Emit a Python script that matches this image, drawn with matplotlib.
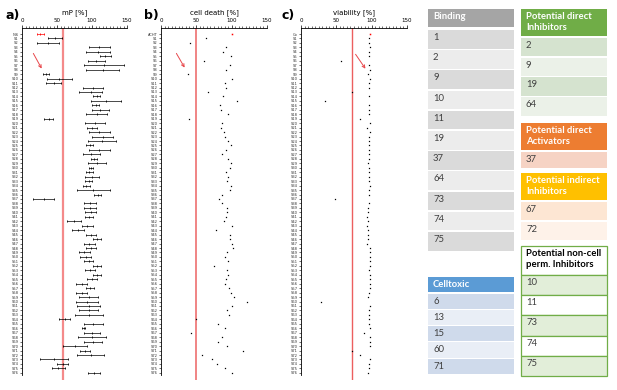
import matplotlib.pyplot as plt
from matplotlib.patches import Rectangle

# ---- data ----
labels_a = ['IN6'] + ['S%d' % i for i in range(1, 77)]
labels_b = ['ACHT'] + ['S%d' % i for i in range(1, 77)]
labels_c = ['Co'] + ['S%d' % i for i in range(1, 77)]

mp_mean = [26, 47, 37, 110, 108, 119, 106, 117, 115, 34, 53, 45, 101, 98, 107, 120, 105, 112, 107, 38,
           104, 100, 110, 115, 114, 97, 110, 99, 103, 107, 98, 96, 100, 95, 92, 102, 108, 31, 97, 97,
           98, 96, 74, 93, 80, 99, 107, 96, 98, 89, 91, 95, 107, 97, 107, 100, 85, 97, 85, 95,
           93, 95, 95, 95, 61, 102, 88, 100, 100, 101, 76, 90, 98, 46, 58, 52, 103]
mp_err = [5, 10, 16, 15, 17, 8, 12, 28, 24, 4, 18, 11, 14, 16, 5, 21, 5, 12, 15, 6,
          14, 7, 15, 15, 20, 5, 15, 12, 4, 13, 3, 5, 10, 5, 5, 23, 5, 15, 8, 8,
          8, 6, 10, 8, 9, 7, 6, 8, 7, 8, 8, 7, 6, 7, 6, 7, 8, 6, 8, 13,
          16, 16, 14, 20, 8, 13, 2, 12, 20, 13, 17, 7, 19, 20, 8, 9, 9]

cell_death = [101, 63, 41, 92, 88, 99, 61, 97, 92, 38, 101, 91, 92, 67, 88, 107, 83, 85, 95, 40,
              87, 85, 89, 91, 95, 99, 92, 86, 95, 99, 98, 92, 95, 93, 99, 98, 87, 82, 87, 93,
              94, 92, 89, 101, 78, 98, 97, 101, 102, 93, 90, 95, 75, 93, 95, 92, 91, 96, 99, 103,
              121, 101, 94, 96, 49, 80, 91, 42, 87, 80, 93, 116, 58, 72, 79, 91, 100]

viability = [97, 96, 96, 97, 96, 96, 57, 96, 97, 95, 97, 96, 96, 72, 96, 34, 96, 96, 96, 84,
             98, 94, 97, 96, 96, 96, 96, 96, 96, 95, 96, 96, 96, 96, 97, 96, 96, 48, 96, 95,
             95, 93, 95, 94, 95, 95, 95, 94, 97, 97, 97, 97, 97, 96, 97, 97, 97, 97, 96, 95,
             29, 97, 96, 96, 96, 96, 98, 89, 97, 97, 97, 72, 84, 97, 96, 96, 95]

# tables
binding = ['1', '2', '9', '10', '11', '19', '37', '64', '73', '74', '75']
direct_inh = ['2', '9', '19', '64']
direct_act = ['37']
indirect_inh = ['67', '72']
noncell_inh = ['10', '11', '73', '74', '75']
celltoxic = ['6', '13', '15', '60', '71']

W, H = 617, 390
fig = plt.figure(figsize=(W / 100, H / 100), dpi=100)


def px_axes(x0, x150, top, bottom):
    return fig.add_axes([x0 / W, 1 - bottom / H, (x150 - x0) / W, (bottom - top) / H])


def panel(ax, labels, title, thr, line_w, line_c):
    n = len(labels)
    ax.set_xlim(0, 150)
    ax.set_ylim(77.6, -1.35)
    ax.set_yticks(range(n))
    ax.set_yticklabels(labels, fontsize=2.6, color='#333333')
    ax.set_xticks([0, 50, 100, 150])
    ax.set_xticks(range(0, 151, 5), minor=True)
    ax.xaxis.tick_top()
    ax.tick_params(axis='x', which='major', labelsize=4, length=2.5, width=0.5, pad=1)
    ax.tick_params(axis='x', which='minor', length=1.2, width=0.4)
    ax.tick_params(axis='y', length=1.5, width=0.4, pad=1)
    for s in ['bottom', 'right']:
        ax.spines[s].set_visible(False)
    ax.spines['top'].set_linewidth(0.6)
    ax.spines['left'].set_linewidth(0.6)
    ax.spines['left'].set_bounds(76.5, -1.35)
    ax.set_facecolor('none')
    ax.axvline(thr, color=line_c, lw=line_w, zorder=1)
    ax.set_title(title, fontsize=5, pad=3)


# panel a
ax_a = px_axes(22, 127, 28, 380)
panel(ax_a, labels_a, 'mP [%]', 58, 1.6, '#f48a8a')
for i in range(len(labels_a)):
    c = 'red' if i == 0 else 'black'
    ax_a.errorbar(mp_mean[i], i, xerr=mp_err[i], fmt='|', color=c, ms=2,
                  elinewidth=0.5, capsize=0.8, capthick=0.5, mew=0.6, zorder=3)

# panel b
ax_b = px_axes(161, 267, 28, 380)
panel(ax_b, labels_b, 'cell death [%]', 49, 1.2, '#ee7070')
ax_b.plot(cell_death[1:], range(1, len(labels_b)), 's', color='black', ms=0.9, mew=0, zorder=3)
ax_b.plot(cell_death[0], 0, 's', color='red', ms=1.1, mew=0, zorder=3)

# panel c
ax_c = px_axes(301, 407, 28, 380)
panel(ax_c, labels_c, 'viability [%]', 72, 1.0, '#ec5f5f')
ax_c.plot(viability[1:], range(1, len(labels_c)), 's', color='black', ms=0.9, mew=0, zorder=3)
ax_c.plot(viability[0], 0, 's', color='red', ms=1.1, mew=0, zorder=3)

for x, t in [(5, 'a)'), (144, 'b)'), (281, 'c)')]:
    fig.text(x / W, 1 - 15 / H, t, fontsize=9, fontweight='bold', va='center')

# overlay in pixel coordinates for arrows and tables
ov = fig.add_axes([0, 0, 1, 1])
ov.set_xlim(0, W)
ov.set_ylim(H, 0)
ov.axis('off')
ov.patch.set_alpha(0)

for (x0, y0, x1, y1) in [(32, 51, 43, 71), (175, 51, 186, 70), (354, 52, 367, 71)]:
    ov.annotate('', xy=(x1, y1), xytext=(x0, y0),
                arrowprops=dict(arrowstyle='->', color='#e8474b', lw=0.7,
                                mutation_scale=5))

FONT = ['Lato', 'DejaVu Sans']


def cell(x0, x1, top, bottom, fc, text, bold=False, tc='#404040', ec='none', lw=0):
    ov.add_patch(Rectangle((x0, top), x1 - x0, bottom - top, facecolor=fc,
                           edgecolor=ec, lw=lw))
    if text:
        ov.text(x0 + 5, top + 3, text, fontsize=6.8, color=tc, va='top', ha='left',
                fontweight='bold' if bold else 'normal', family=FONT, linespacing=1.25)


# Binding
cell(428, 514, 9, 27.3, '#a5a5a5', 'Binding', True, 'white')
for i, t in enumerate(binding):
    top = 30 + i * 20.2
    cell(428, 514, top, top + 18.5, '#dadada' if i % 2 == 0 else '#ececec', t)

# Potential direct inhibitors
cell(521, 607, 9, 35.7, '#70ad47', 'Potential direct\nInhibitors', True, 'white')
for i, t in enumerate(direct_inh):
    top = 37.7 + i * 19.8
    cell(521, 607, top, top + 18.5, '#d5e3cf' if i % 2 == 0 else '#ebf1e8', t)

# Potential direct activators
cell(521, 607, 123.3, 150, '#ed7d31', 'Potential direct\nActivators', True, 'white')
for i, t in enumerate(direct_act):
    top = 151.7 + i * 19.8
    cell(521, 607, top, top + 16, '#f6d3c4', t)

# Potential indirect inhibitors
cell(521, 607, 173, 200, '#ffc000', 'Potential indirect\nInhibitors', True, 'white')
for i, t in enumerate(indirect_inh):
    top = 201.7 + i * 20
    cell(521, 607, top, top + 18.5, '#fde6d3' if i % 2 == 0 else '#fef2e9', t)

# Potential non-cell permeable inhibitors
cell(521, 607, 246, 275, 'white', 'Potential non-cell\nperm. Inhibitors', True, 'black',
     ec='#70ad47', lw=0.9)
for i, t in enumerate(noncell_inh):
    top = 275 + i * 20.2
    cell(521, 607, top, top + 20.2, '#e2eed9' if i % 2 == 0 else 'white', t,
         ec='#70ad47', lw=0.9)

# Celltoxic
cell(428, 514, 276.7, 292.3, '#5b9bd5', 'Celltoxic', True, 'white')
for i, t in enumerate(celltoxic):
    top = 293.5 + i * 16.3
    cell(428, 514, top, top + 15.3, '#cfdaeb' if i % 2 == 0 else '#e9eef6', t)

fig.savefig('out.png', dpi=100)
